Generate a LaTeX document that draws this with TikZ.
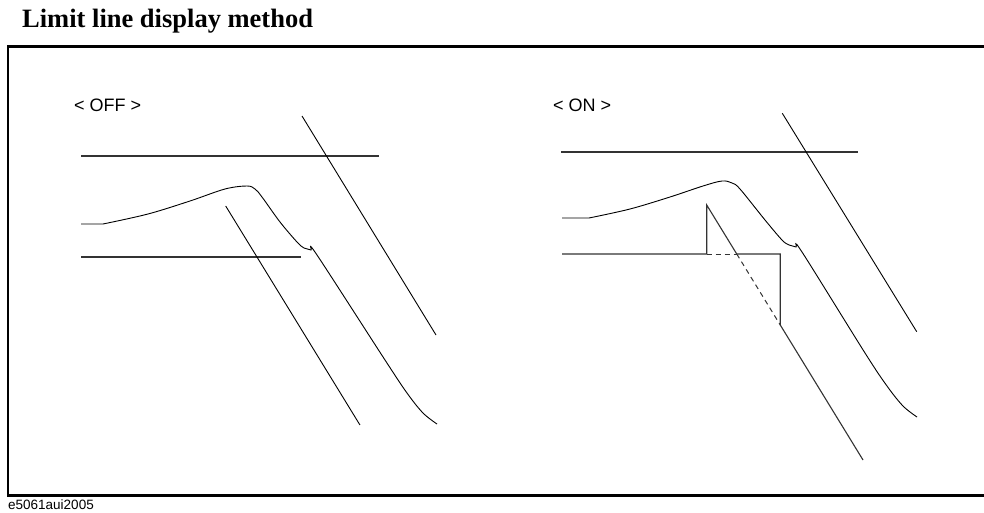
\documentclass[tikz,border=0pt]{standalone}
\usepackage{fontspec}
\setmainfont{Liberation Serif}
\setsansfont{Liberation Sans}
\usetikzlibrary{positioning}

\tikzset{
  frameline/.style={line width=2.2pt},
  limitline/.style={line width=1.1pt, black!80},
  traceline/.style={line width=0.9pt},
  skewline/.style={line width=0.9pt},
  hidden/.style={line width=1pt, black!80, dash pattern=on 5pt off 4pt},
  modelabel/.style={font=\sffamily\fontsize{18}{20}\selectfont, anchor=base west, inner sep=0pt}
}

\begin{document}
\begin{tikzpicture}[x=1pt, y=-1pt]
  \useasboundingbox (0,0) rectangle (984,513);
  % Slope of the skew limit lines (dx per dy)
  \def\sl{0.613}

  % Title and frame
  \node[font=\bfseries\fontsize{26.5}{30}\selectfont, anchor=base west, inner sep=0pt] (title) at (22,28) {Limit line display method};
  \draw[frameline] (990,46.5) -- (8,46.5) -- (8,495.5) -- (990,495.5);
  \node[font=\sffamily\fontsize{13.5}{15}\selectfont, anchor=base west, inner sep=0pt] (figid) at (8,509) {e5061aui2005};

  % ---- OFF ----
  \node[modelabel] (offlabel) at (74,112) {< OFF >};
  \draw[limitline] (81,156) -- (379,156);
  \draw[limitline] (81,257) -- (301,257);
  \draw[skewline] (302,116) -- (436,335);
  \draw[skewline] (225.7,206) -- ({225.7+\sl*219},425);
  \draw[traceline] (81,224) -- (103,224)
    plot[smooth, tension=0.55] coordinates {(103,224) (148,214) (190,201) (225,189) (247,186) (255,189) (262,197)
      (280,222) (297,242) (304,248) (311,250) (317,255) (385,360) (407,393) (423,413) (437,424)};

  % ---- ON ----
  \node[modelabel] (onlabel) at (553,112) {< ON >};
  \draw[limitline] (561,152) -- (858,152);
  \draw[skewline] (782.3,113.3) -- (916.7,331.7);
  \draw[traceline] (562,218) -- (589,218)
    plot[smooth, tension=0.55] coordinates {(589,218) (630,209) (670,197) (703,186) (722,181) (732,183) (740,189)
      (765,220) (782,240) (789,245) (796,247) (802,252) (865,353) (887,386) (903,406) (917,417)};
  % displayed limit: step between the two segments
  \draw[limitline, line join=miter] (562,254) -- (706.7,254) -- (706.7,205)
    -- ({706.7+\sl*49},254) -- ({706.7+\sl*120},254) -- ({706.7+\sl*120},325) -- ({706.7+\sl*255},460);
  \draw[hidden] (706.7,254) -- ({706.7+\sl*49},254);
  \draw[hidden] ({706.7+\sl*49},254) -- ({706.7+\sl*120},325);
\end{tikzpicture}
\end{document}
